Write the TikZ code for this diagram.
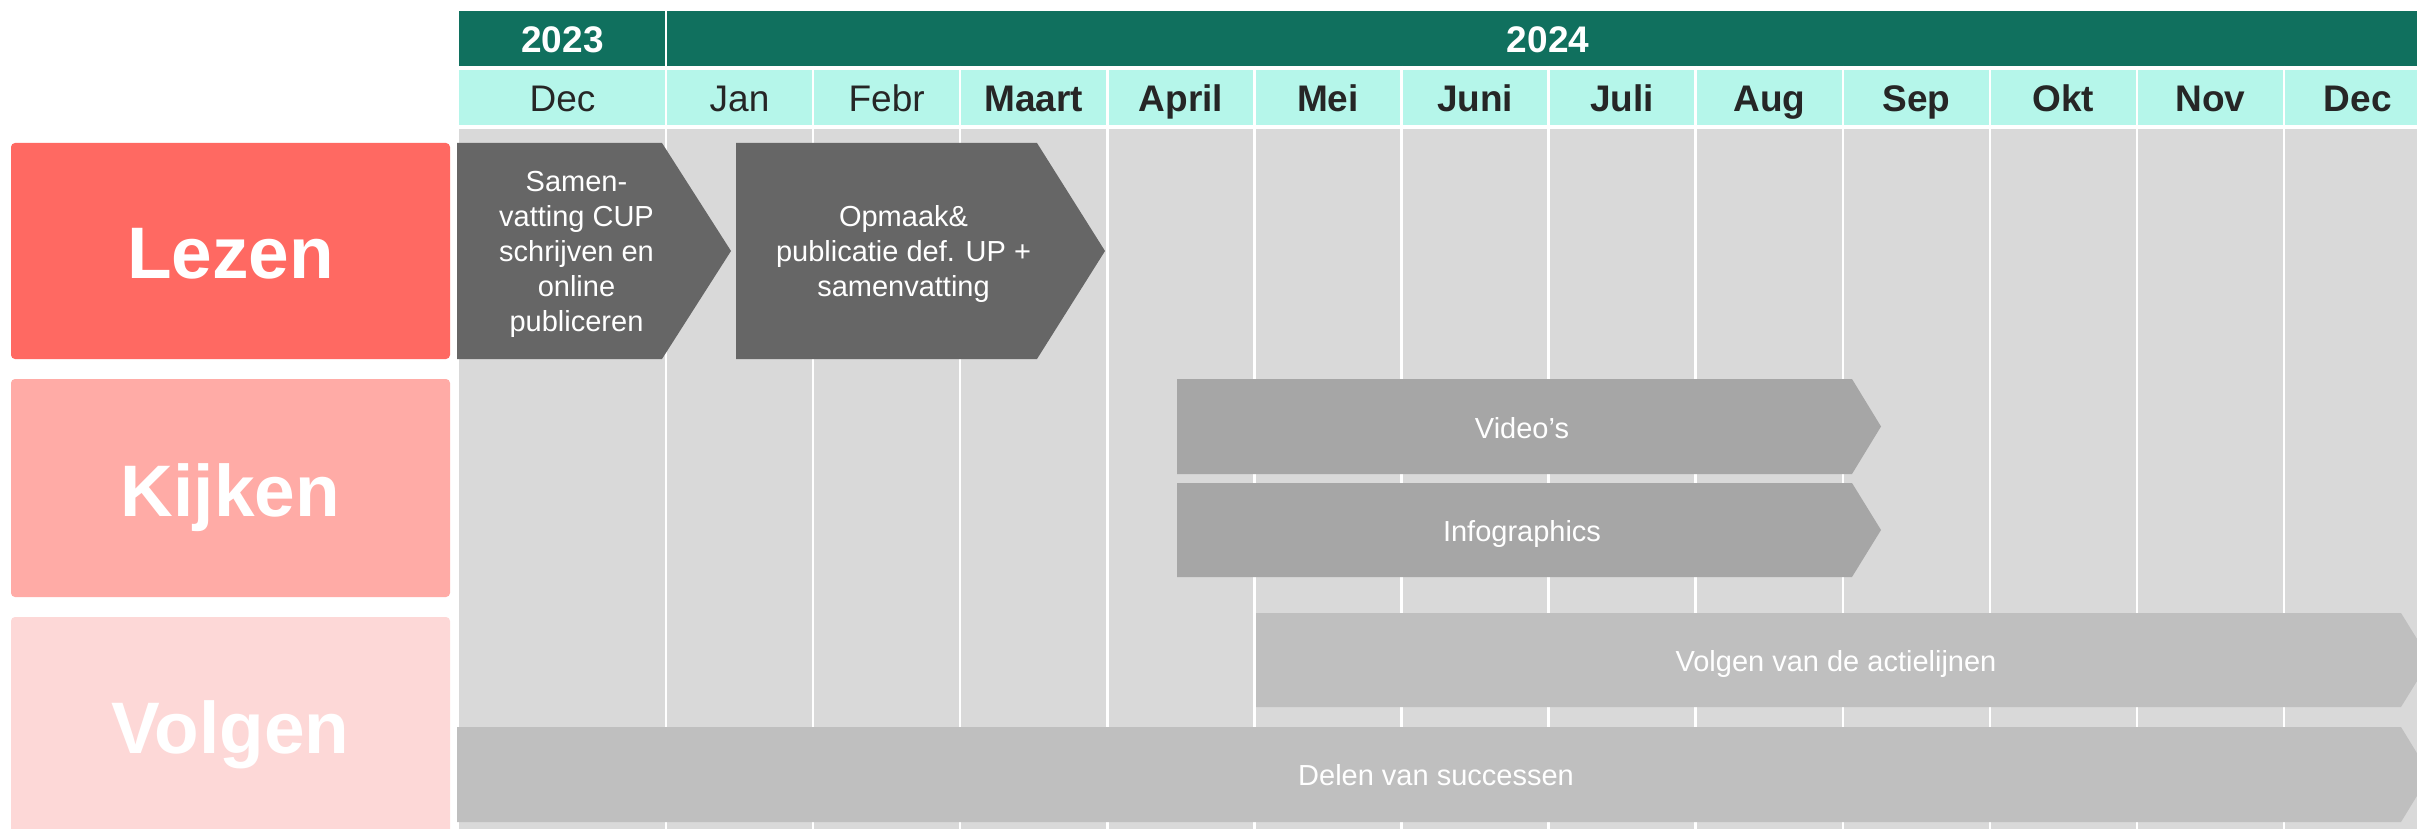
\documentclass[tikz,border=0pt]{standalone}
\usepackage{fontspec}
\setmainfont{Liberation Sans}
\definecolor{hdrgreen}{HTML}{10705E}
\definecolor{mint}{HTML}{B5F6EA}
\definecolor{gridgray}{HTML}{D9D9D9}
\definecolor{lezenred}{HTML}{FF6962}
\definecolor{kijkenpink}{HTML}{FFABA6}
\definecolor{volgenpink}{HTML}{FDD8D7}
\definecolor{darkbar}{HTML}{666666}
\definecolor{midbar}{HTML}{A6A6A6}
\definecolor{lightbar}{HTML}{BFBFBF}
\definecolor{monthtxt}{HTML}{262626}

\begin{document}
\begin{tikzpicture}[x=1pt,y=-1pt,
    sepline/.style={white, line width=2.5pt},
    yearlbl/.style={anchor=base, text=white, font=\fontsize{37}{44}\selectfont\bfseries},
    monthlbl/.style={anchor=base, text=monthtxt, font=\fontsize{37}{44}\selectfont},
    catlbl/.style={anchor=base, text=white, font=\fontsize{73}{80}\selectfont\bfseries},
    bartext/.style={text=white, inner sep=0pt, align=center, font=\fontsize{29}{35}\selectfont}]
    \useasboundingbox (0,0) rectangle (2417,829);
    \clip (0,0) rectangle (2417,829);

    % Header rows and grid
    \fill[hdrgreen] (459,11) rectangle (2417,66);
    \fill[mint] (459,70) rectangle (2417,125);
    \fill[gridgray] (459,129) rectangle (2417,829);
    \draw[sepline] (666,11) -- (666,829);
    \foreach \i in {1,...,11}
        \draw[sepline] ({666+147.1*\i},66) -- ({666+147.1*\i},829);

    % Years
    \node[yearlbl] (y2023) at (562.5,53) {2023};
    \node[yearlbl] (y2024) at (1548,53) {2024};

    % Months
    \node[monthlbl] (mdec) at (562.5,112) {Dec};
    \foreach \m [count=\k from 0] in {Jan,Febr}
        \node[monthlbl] (m\k) at ({666+147.1*(\k+0.5)},112) {\m};
    \foreach \m [count=\k from 2] in {Maart,April,Mei,Juni,Juli,Aug,Sep,Okt,Nov,Dec}
        \node[monthlbl, font=\fontsize{37}{44}\selectfont\bfseries] (m\k) at ({666+147.1*(\k+0.5)},112) {\m};

    % Categories
    \fill[lezenred, rounded corners=4pt] (11,143) rectangle (450,359);
    \node[catlbl] (lezen) at (230.5,278) {Lezen};
    \fill[kijkenpink, rounded corners=4pt] (11,379) rectangle (450,597);
    \node[catlbl] (kijken) at (230.5,516) {Kijken};
    \fill[volgenpink, rounded corners=4pt] (11,617) rectangle (450,850);
    \node[catlbl] (volgen) at (230.5,753) {Volgen};

    % Lezen
    \fill[darkbar] (457,143) -- (662,143) -- (731,251) -- (662,359) -- (457,359) -- cycle;
    \node[bartext] (samenv) at (576.5,254) {Samen-\\vatting CUP\\schrijven en\\online\\publiceren};
    \fill[darkbar] (736,143) -- (1037,143) -- (1105,251) -- (1037,359) -- (736,359) -- cycle;
    \node[bartext] (opmaak) at (903.5,254) {Opmaak\&\\publicatie def. UP +\\samenvatting};

    % Kijken
    \fill[midbar] (1177,379) -- (1852,379) -- (1881,426.5) -- (1852,474) -- (1177,474) -- cycle;
    \node[bartext, anchor=base] (video) at (1522,438) {Video’s};
    \fill[midbar] (1177,483) -- (1852,483) -- (1881,530) -- (1852,577) -- (1177,577) -- cycle;
    \node[bartext, anchor=base] (infogr) at (1522,541) {Infographics};

    % Volgen
    \fill[lightbar] (1256,613) -- (2401,613) -- (2430,660) -- (2401,707) -- (1256,707) -- cycle;
    \node[bartext, anchor=base] (actie) at (1836,671) {Volgen van de actielijnen};
    \fill[lightbar] (457,727) -- (2401,727) -- (2430,774.5) -- (2401,822) -- (457,822) -- cycle;
    \node[bartext, anchor=base] (delen) at (1436,785) {Delen van successen};
\end{tikzpicture}
\end{document}
